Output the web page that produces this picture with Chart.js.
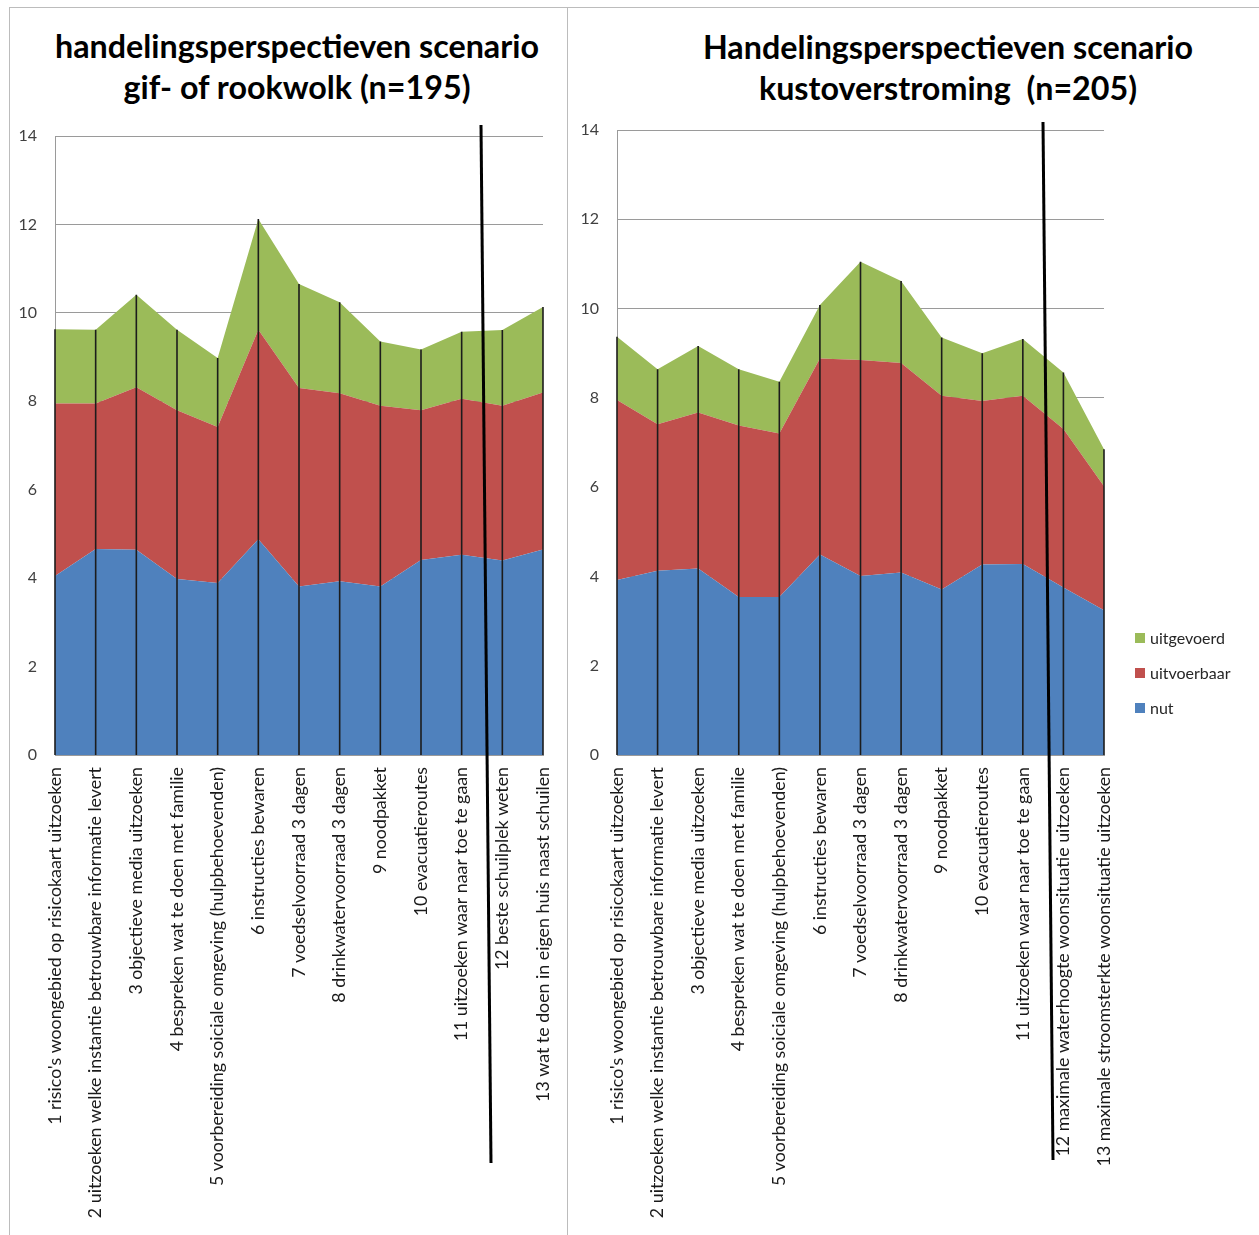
<!DOCTYPE html>
<html><head><meta charset="utf-8">
<script src="https://cdn.jsdelivr.net/npm/chart.js@4.4.1/dist/chart.umd.min.js"></script>
<style>
html,body{margin:0;padding:0;background:#fff}
body{width:1259px;height:1235px;position:relative;overflow:hidden;font-family:Lato,"Liberation Sans",sans-serif}
.line{position:absolute;background:#bcbcbc}
.title{position:absolute;font-weight:bold;color:#000;text-align:center;white-space:nowrap;transform:translateX(-50%)}
canvas{position:absolute}
.legend{position:absolute;left:1135px;top:620px;font-size:16px;color:#262626}
.legend div{height:35px;display:flex;align-items:center;position:relative}
.legend span.box{display:inline-block;width:10px;height:10px;margin-right:5px}
svg{position:absolute;left:0;top:0}
</style></head>
<body>
<div class="line" style="left:9px;top:7px;width:1250px;height:1px"></div>
<div class="line" style="left:9px;top:7px;width:1px;height:1228px"></div>
<div class="line" style="left:567px;top:7px;width:1px;height:1228px"></div>
<div class="title" id="t1" style="left:297px;top:25px"></div>
<div class="title" id="t2" style="left:948px;top:26px"></div>
<canvas id="c1" width="558" height="1225" style="left:9px;top:7px"></canvas>
<canvas id="c2" width="692" height="1225" style="left:567px;top:7px"></canvas>
<div class="legend" id="legend"></div>
<svg width="1259" height="1235">
<line x1="481" y1="125" x2="491" y2="1163" stroke="#000" stroke-width="3"/>
<line x1="1043" y1="122" x2="1053" y2="1160" stroke="#000" stroke-width="3"/>
</svg>
<script>
// ---- data ----
const titleGif = ["handelingsperspectieven scenario", "gif- of rookwolk (n=195)"];
const titleKust = ["Handelingsperspectieven scenario", "kustoverstroming\u00a0 (n=205)"];
const seriesNames = ["nut", "uitvoerbaar", "uitgevoerd"];
const categoriesGif = [
  "1 risico's woongebied op risicokaart uitzoeken",
  "2 uitzoeken welke instantie betrouwbare informatie levert",
  "3 objectieve media uitzoeken",
  "4 bespreken wat te doen met familie",
  "5 voorbereiding soiciale omgeving (hulpbehoevenden)",
  "6 instructies bewaren",
  "7 voedselvoorraad 3 dagen",
  "8 drinkwatervoorraad 3 dagen",
  "9 noodpakket",
  "10 evacuatieroutes",
  "11 uitzoeken waar naar toe te gaan",
  "12 beste schuilplek weten",
  "13 wat te doen in eigen huis naast schuilen"
];
const categoriesKust = [
  "1 risico's woongebied op risicokaart uitzoeken",
  "2 uitzoeken welke instantie betrouwbare informatie levert",
  "3 objectieve media uitzoeken",
  "4 bespreken wat te doen met familie",
  "5 voorbereiding soiciale omgeving (hulpbehoevenden)",
  "6 instructies bewaren",
  "7 voedselvoorraad 3 dagen",
  "8 drinkwatervoorraad 3 dagen",
  "9 noodpakket",
  "10 evacuatieroutes",
  "11 uitzoeken waar naar toe te gaan",
  "12 maximale waterhoogte woonsituatie uitzoeken",
  "13 maximale stroomsterkte woonsituatie uitzoeken"
];
const gifNut         = [4.05, 4.66, 4.64, 3.98, 3.89, 4.88, 3.81, 3.93, 3.81, 4.41, 4.53, 4.40, 4.65];
const gifUitvoerbaar = [3.90, 3.29, 3.68, 3.82, 3.53, 4.74, 4.49, 4.25, 4.09, 3.39, 3.53, 3.50, 3.55];
const gifUitgevoerd  = [1.68, 1.67, 2.09, 1.82, 1.56, 2.50, 2.35, 2.06, 1.45, 1.37, 1.51, 1.71, 1.93];
const kustNut         = [3.92, 4.13, 4.18, 3.54, 3.54, 4.49, 4.01, 4.09, 3.71, 4.27, 4.28, 3.75, 3.24];
const kustUitvoerbaar = [4.03, 3.28, 3.49, 3.84, 3.66, 4.39, 4.84, 4.69, 4.34, 3.66, 3.77, 3.55, 2.78];
const kustUitgevoerd  = [1.42, 1.23, 1.49, 1.26, 1.16, 1.20, 2.20, 1.84, 1.30, 1.07, 1.27, 1.27, 0.83];
const yMin = 0, yMax = 14, yStep = 2;
const colors = ["#4F81BD", "#C0504D", "#9BBB59"];

// ---- helpers ----
const FAM = "Lato";
function fitSize(text, target, weight){
  const c = document.createElement('canvas').getContext('2d');
  c.font = weight + " 100px " + FAM;
  return 100 * target / c.measureText(text).width;
}
const titleSize = fitSize(titleGif[0], 484, "bold");
const labelSize = fitSize(categoriesGif[0], 358, "normal");

function setTitle(id, lines){
  const el = document.getElementById(id);
  el.style.fontSize = titleSize.toFixed(2) + "px";
  el.style.lineHeight = "41px";
  el.innerHTML = "";
  lines.forEach(l => { const d = document.createElement('div'); d.textContent = l; el.appendChild(d); });
}
setTitle('t1', titleGif);
setTitle('t2', titleKust);

const dropLines = {
  id: 'dropLines',
  afterDatasetsDraw(chart){
    const {ctx, scales:{x, y}} = chart;
    ctx.save();
    ctx.strokeStyle = '#1c1c1c';
    ctx.lineWidth = 1.6;
    chart.data.labels.forEach((_, i) => {
      let total = 0;
      chart.data.datasets.forEach(d => total += d.data[i]);
      const px = x.getPixelForValue(i);
      ctx.beginPath();
      ctx.moveTo(px, y.getPixelForValue(total));
      ctx.lineTo(px, y.getPixelForValue(0));
      ctx.stroke();
    });
    ctx.restore();
  }
};

function makeChart(id, labels, series, pad, yW){
  const datasets = series.map((data, k) => ({
    label: seriesNames[k],
    data: data,
    backgroundColor: colors[k],
    borderWidth: 0,
    pointRadius: 0,
    tension: 0,
    fill: k === 0 ? 'origin' : '-1'
  }));
  return new Chart(document.getElementById(id), {
    type: 'line',
    data: { labels: labels, datasets: datasets },
    plugins: [dropLines],
    options: {
      responsive: false,
      devicePixelRatio: 1,
      animation: false,
      layout: { padding: pad },
      plugins: { legend: { display: false }, title: { display: false }, tooltip: { enabled: false } },
      scales: {
        x: {
          grid: { display: false, drawTicks: false },
          border: { color: '#9a9a9a' },
          ticks: { autoSkip: false, minRotation: 90, maxRotation: 90, padding: 12, color: '#1a1a1a',
                   font: { family: FAM, size: labelSize } },
          afterFit(s){ s.height = 477; s.paddingLeft = 0; s.paddingRight = 0; }
        },
        y: {
          stacked: true, min: yMin, max: yMax,
          grid: { color: '#9a9a9a', drawTicks: false },
          border: { color: '#9a9a9a' },
          ticks: { stepSize: yStep, padding: 18, color: '#404040', font: { family: FAM, size: 16 } },
          afterFit(s){ s.width = yW; s.paddingTop = 0; s.paddingBottom = 0; }
        }
      }
    }
  });
}

makeChart('c1', categoriesGif, [gifNut, gifUitvoerbaar, gifUitgevoerd], {top:129, right:24, left:0, bottom:0}, 46);
makeChart('c2', categoriesKust, [kustNut, kustUitvoerbaar, kustUitgevoerd], {top:123, right:155, left:0, bottom:0}, 50);

// legend (reverse order like the reference)
const lg = document.getElementById('legend');
for (let k = seriesNames.length - 1; k >= 0; k--) {
  const row = document.createElement('div');
  const b = document.createElement('span'); b.className = 'box'; b.style.background = colors[k];
  const t = document.createElement('span'); t.textContent = seriesNames[k];
  row.appendChild(b); row.appendChild(t); lg.appendChild(row);
}
</script>
</body></html>
